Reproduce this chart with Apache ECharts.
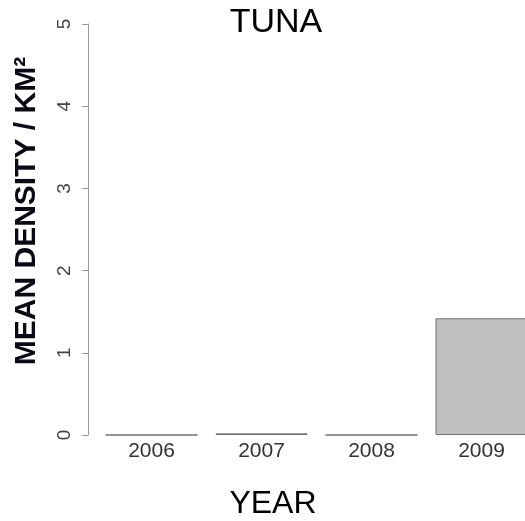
<!DOCTYPE html>
<html>
<head>
<meta charset="utf-8">
<title>TUNA</title>
<script src="https://cdn.jsdelivr.net/npm/echarts@6/dist/echarts.min.js"></script>
<style>
  html, body { margin: 0; padding: 0; background: #ffffff; overflow: hidden; width: 525px; height: 521px; }
  /* the drawing surface is wider than the window so the last bar runs off the right edge */
  #chart { width: 545px; height: 521px; }
</style>
</head>
<body>
<div id="chart"></div>
<script>
// Mean tuna density per km² by survey year
const years = ['2006', '2007', '2008', '2009'];
const meanDensity = [0, 0.02, 0, 1.42];
const yTicks = [0, 1, 2, 3, 4, 5];

const FONT = '"Liberation Sans", Arial, Helvetica, sans-serif';

const chart = echarts.init(document.getElementById('chart'), null, { renderer: 'canvas' });

chart.setOption({
  backgroundColor: '#ffffff',
  animation: false,
  grid: { left: 96.5, width: 440, top: 24, bottom: 86, containLabel: false },
  xAxis: {
    type: 'category',
    data: years,
    boundaryGap: true,
    axisLine: { show: false },
    axisTick: { show: false },
    axisLabel: { color: '#333333', fontSize: 21, fontFamily: FONT, margin: 6 }
  },
  yAxis: {
    type: 'value',
    min: yTicks[0],
    max: yTicks[yTicks.length - 1],
    interval: 1,
    offset: 8.5,
    splitLine: { show: false },
    axisLine: { show: true, lineStyle: { color: '#999999', width: 1 } },
    axisTick: { show: true, length: 6, lineStyle: { color: '#999999' } },
    axisLabel: { color: '#444444', fontSize: 19, fontFamily: FONT, rotate: 90, margin: 14 }
  },
  series: [{
    type: 'bar',
    data: meanDensity,
    barWidth: 92,
    itemStyle: { color: '#c0c0c0', borderColor: '#707070', borderWidth: 1 }
  }],
  graphic: [
    {
      type: 'text',
      x: 276, y: 23,
      style: { text: 'TUNA', x: 0, y: 0, font: '34px ' + FONT, fill: '#000000', align: 'center', verticalAlign: 'middle' }
    },
    {
      type: 'text',
      x: 273, y: 504,
      style: { text: 'YEAR', x: 0, y: 0, font: '32px ' + FONT, fill: '#000000', align: 'center', verticalAlign: 'middle' }
    },
    {
      type: 'text',
      rotation: Math.PI / 2,
      x: 27, y: 211,
      style: { text: 'MEAN DENSITY / KM²', x: 0, y: 0, font: 'bold 30px ' + FONT, fill: '#0a0a14', align: 'center', verticalAlign: 'middle' }
    }
  ]
});
</script>
</body>
</html>
